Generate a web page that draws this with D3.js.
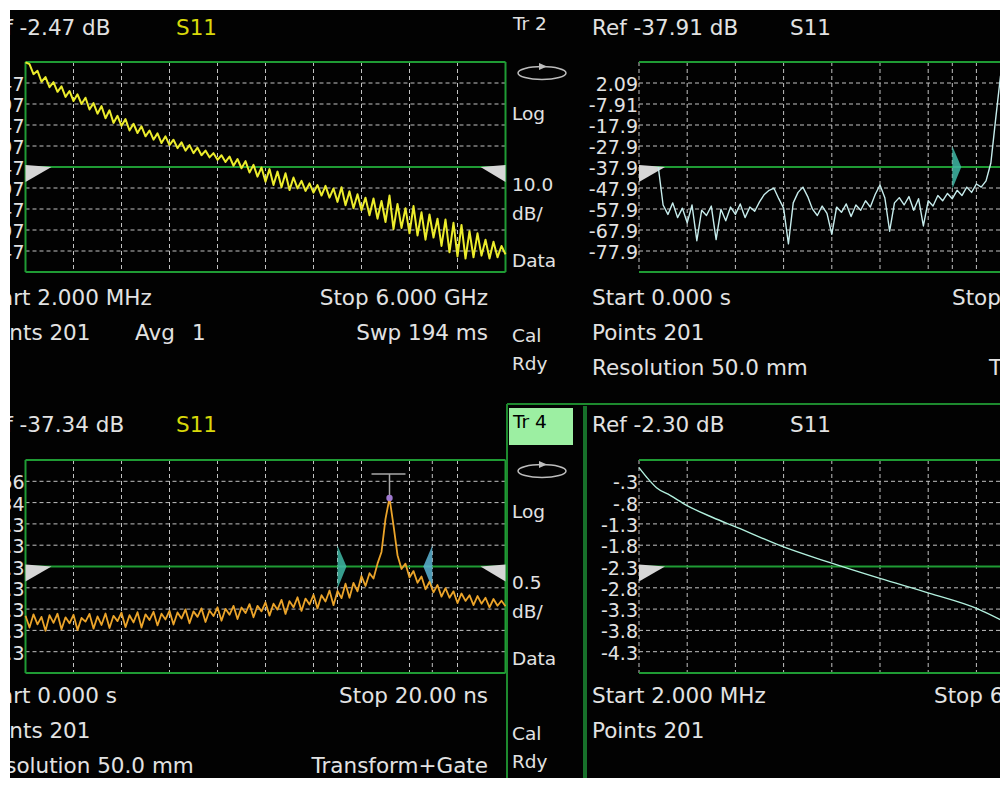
<!DOCTYPE html>
<html lang="en">
<head>
<meta charset="UTF-8">
<title>Network analyzer S11 - four windows</title>
<script src="https://d3js.org/d3.v7.min.js"></script>
<style>
    body { margin: 0; background: #fff; }
    text { font-family: "DejaVu Sans", sans-serif; fill: #e2e2e2; }
    .grid { stroke: #c2c2c2; stroke-width: 1; stroke-dasharray: 4,3; }
    .frame { stroke: #1f9b34; stroke-width: 2; }
    .tick { font-size: 19px; text-anchor: end; }
    .info { font-size: 21.5px; }
    .status { font-size: 18.5px; }
</style>
</head>
<body>
<svg id="chart" width="1005" height="787"></svg>
<script>
// ---- data ----
// top-left: S11 log mag, 0.5 dB/div, ref -2.47 dB, 2 MHz .. 6 GHz
const tlLabels = ["-.47", "-.97", "-1.47", "-1.97", "-2.47", "-2.97", "-3.47", "-3.97", "-4.47"];
const tlFreq = d3.range(121).map(i => 0.002 + i * (6 - 0.002) / 120);   // sweep points, GHz
const tlDb = [
    0.02, -0.02, -0.26, -0.18, -0.44, -0.33, -0.57, -0.45, -0.68, -0.55,
    -0.80, -0.66, -0.90, -0.74, -0.97, -0.82, -1.10, -0.95, -1.20, -1.02,
    -1.31, -1.12, -1.42, -1.25, -1.49, -1.33, -1.60, -1.44, -1.66, -1.50,
    -1.74, -1.60, -1.82, -1.67, -1.90, -1.74, -1.95, -1.82, -2.02, -1.88,
    -2.08, -1.95, -2.14, -2.01, -2.19, -2.08, -2.24, -2.14, -2.30, -2.19,
    -2.35, -2.22, -2.44, -2.28, -2.50, -2.33, -2.60, -2.42, -2.70, -2.48,
    -2.82, -2.52, -2.90, -2.58, -2.95, -2.62, -3.02, -2.72, -2.98, -2.80,
    -3.04, -2.86, -3.08, -2.90, -3.15, -2.92, -3.20, -2.98, -3.30, -2.95,
    -3.38, -3.05, -3.45, -3.12, -3.50, -3.20, -3.62, -3.22, -3.70, -3.28,
    -3.78, -3.15, -3.95, -3.35, -3.92, -3.45, -4.05, -3.40, -4.10, -3.55,
    -4.20, -3.60, -4.15, -3.70, -4.35, -3.72, -4.50, -3.80, -4.60, -3.85,
    -4.65, -4.00, -4.62, -4.05, -4.58, -4.20, -4.65, -4.25, -4.62, -4.35,
    -4.55
];

// bottom-left: time domain, 10 dB/div, ref -37.34 dB, 0 .. 20 ns
const blLabels = ["2.66", "-7.34", "-17.3", "-27.3", "-37.3", "-47.3", "-57.3", "-67.3", "-77.3"];
const blTime = d3.range(121).map(i => i * 20 / 120);   // ns
const blDb = [
    -60.5, -66.0, -59.8, -64.5, -61.0, -67.5, -60.2, -63.8, -59.5, -66.8,
    -61.2, -64.0, -60.0, -67.2, -61.5, -63.2, -59.6, -66.5, -60.8, -64.8,
    -59.4, -66.2, -60.5, -63.0, -59.0, -65.8, -60.2, -63.6, -58.8, -66.0,
    -59.8, -62.5, -58.6, -65.0, -59.5, -62.2, -58.2, -64.6, -58.9, -61.8,
    -57.5, -64.0, -58.4, -61.0, -57.0, -63.4, -58.0, -60.6, -56.5, -62.8,
    -57.2, -60.0, -55.8, -62.0, -56.6, -59.2, -55.0, -61.2, -55.8, -58.4,
    -54.2, -60.4, -54.8, -57.6, -53.0, -59.6, -53.6, -56.5, -51.8, -58.2,
    -52.4, -55.2, -50.6, -57.0, -50.8, -53.8, -48.6, -55.5, -48.8, -52.2,
    -45.4, -52.0, -45.0, -49.0, -41.8, -46.5, -40.5, -43.0, -36.0, -30.5,
    -15.0, -5.2, -18.0, -32.0, -38.5, -36.0, -42.5, -39.5, -45.0, -42.0,
    -48.0, -44.5, -49.5, -46.0, -51.5, -47.5, -52.0, -49.0, -54.5, -50.0,
    -53.5, -50.8, -55.5, -51.2, -54.8, -52.0, -56.5, -52.6, -55.8, -53.4,
    -56.0
];
const gateTimes = [13.0, 16.95];   // ns, gate start / stop

// top-right: time domain, 10 dB/div, ref -37.91 dB
const trLabels = ["2.09", "-7.91", "-17.9", "-27.9", "-37.9", "-47.9", "-57.9", "-67.9", "-77.9"];
const trTime = d3.range(73).map(i => 0.8 + i * 0.2);   // ns
const trDb = [
    -37.9, -56.0, -60.5, -55.0, -62.0, -57.5, -64.5, -56.0, -73.0, -58.5,
    -61.0, -56.5, -72.5, -58.0, -63.5, -57.0, -60.5, -55.5, -62.0, -57.0,
    -59.0, -54.5, -51.0, -49.0, -48.0, -53.0, -57.5, -74.5, -55.0, -50.0,
    -47.5, -52.0, -58.0, -61.0, -56.5, -60.0, -70.0, -57.0, -59.5, -55.5,
    -61.5, -56.0, -58.5, -54.0, -57.0, -51.0, -46.5, -52.5, -68.5, -55.0,
    -52.5, -56.0, -52.0, -58.5, -53.0, -66.0, -54.0, -56.5, -51.5, -54.0,
    -50.5, -53.0, -49.0, -51.5, -47.5, -50.0, -46.0, -47.5, -44.5, -36.0,
    -15.0, 5.4, 5.4
];

// bottom-right: gated S11, 0.5 dB/div, ref -2.30 dB
const brLabels = ["-.3", "-.8", "-1.3", "-1.8", "-2.3", "-2.8", "-3.3", "-3.8", "-4.3"];
const brFreq = [0.002, 0.10, 0.22, 0.39, 0.60, 0.92, 1.22, 1.76, 2.38, 3.00, 3.62, 4.21, 4.52];
const brDb = [0.02, -0.21, -0.45, -0.63, -0.87, -1.15, -1.38, -1.81, -2.21, -2.58, -2.93, -3.29, -3.57];

// ---- drawing ----
const svg = d3.select("#chart");
svg.append("clipPath").attr("id", "screen")
    .append("rect").attr("x", 10).attr("y", 10).attr("width", 990).attr("height", 768);
const g = svg.append("g").attr("clip-path", "url(#screen)");
g.append("rect").attr("x", 0).attr("y", 0).attr("width", 1005).attr("height", 787).attr("fill", "#020202");

function txt(x, y, s, cls, opts = {}) {
    const t = g.append("text").attr("x", x).attr("y", y).attr("class", cls).text(s);
    if (opts.anchor) t.attr("text-anchor", opts.anchor);
    if (opts.fill) t.style("fill", opts.fill);
    return t;
}

function panel(p) {
    const x = d3.scaleLinear().domain(p.xDomain).range([p.left, p.left + p.width]);
    const y = d3.scaleLinear().domain([p.ref + 5 * p.per, p.ref - 5 * p.per]).range([p.top, p.top + p.height]);
    const bottom = p.top + p.height, right = p.left + p.width;

    // dashed graticule
    for (let k = 1; k < 10; k++) {
        const v = p.ref + (5 - k) * p.per;
        if (k !== 5) g.append("line").attr("class", "grid")
            .attr("x1", p.left).attr("x2", right).attr("y1", y(v)).attr("y2", y(v));
        txt(p.left - 1, y(v) + 8, p.labels[k - 1], "tick");
    }
    for (let k = 0; k <= 10; k++) {
        const xv = p.left + k * p.width / 10;
        g.append("line").attr("class", "grid")
            .attr("x1", xv).attr("x2", xv).attr("y1", p.top).attr("y2", bottom);
    }
    (p.gates || []).forEach(t => {
        g.append("line").attr("class", "grid")
            .attr("x1", x(t)).attr("x2", x(t)).attr("y1", p.top).attr("y2", bottom);
    });
    // green frame + reference line
    [p.top, bottom, y(p.ref)].forEach(yy => {
        g.append("line").attr("class", "frame").attr("x1", p.left).attr("x2", right).attr("y1", yy).attr("y2", yy);
    });
    if (p.sides) [p.left, right].forEach(xx => {
        g.append("line").attr("class", "frame").attr("x1", xx).attr("x2", xx).attr("y1", p.top).attr("y2", bottom);
    });

    // reference level arrows
    const ry = y(p.ref);
    g.append("path").attr("fill", "#d6d6d6")
        .attr("d", `M${p.left},${ry - 2} L${p.left + 26},${ry} L${p.left},${ry + 15} Z`);
    if (p.sides) g.append("path").attr("fill", "#d6d6d6")
        .attr("d", `M${right - 25},${ry} L${right},${ry - 2} L${right},${ry + 15} Z`);

    // gate flags
    (p.gates || []).forEach((t, i) => {
        const gx = x(t), dir = i === 0 ? 1 : -1;
        g.append("path").attr("fill", i === 0 ? "#3fb8a6" : "#5cb4d4").attr("opacity", 0.85)
            .attr("d", `M${gx},${ry - 21} L${gx + dir * 9},${ry} L${gx},${ry + 22} Z`);
    });

    // trace
    const pts = p.xs.map((d, i) => [d, p.ys[i]]);
    g.append("path").datum(pts)
        .attr("fill", "none").attr("stroke", p.color).attr("stroke-width", p.sw)
        .attr("stroke-linejoin", "round")
        .attr("d", d3.line().x(d => x(d[0])).y(d => y(d[1])).curve(p.curve || d3.curveLinear));

    if (p.peak) {
        const i = p.ys.indexOf(d3.max(p.ys));
        const px = x(p.xs[i]), py = y(p.ys[i]);
        g.append("line").attr("stroke", "#a8a8a8").attr("stroke-width", 1.5)
            .attr("x1", px - 18).attr("x2", px + 16).attr("y1", py - 24).attr("y2", py - 24);
        g.append("line").attr("stroke", "#a8a8a8").attr("stroke-width", 1.5)
            .attr("x1", px).attr("x2", px).attr("y1", py - 24).attr("y2", py);
        g.append("circle").attr("cx", px).attr("cy", py).attr("r", 3.2).attr("fill", "#a07ad0");
    }
}

// top-left
panel({ left: 25.5, width: 480, top: 62, height: 210, ref: -2.47, per: 0.5, labels: tlLabels,
    xDomain: [0.002, 6], xs: tlFreq, ys: tlDb, color: "#ecec2c", sw: 2, sides: true });
// bottom-left
panel({ left: 25.5, width: 480, top: 460, height: 213, ref: -37.34, per: 10, labels: blLabels,
    xDomain: [0, 20], xs: blTime, ys: blDb, color: "#eba42a", sw: 1.8, sides: true, gates: gateTimes, peak: true });
// top-right
panel({ left: 639, width: 482, top: 62, height: 210, ref: -37.91, per: 10, labels: trLabels,
    xDomain: [0, 20], xs: trTime, ys: trDb, color: "#c6ecec", sw: 1.4, gates: gateTimes });
// bottom-right
panel({ left: 639, width: 482, top: 460, height: 213, ref: -2.30, per: 0.5, labels: brLabels,
    xDomain: [0.002, 6], xs: brFreq, ys: brDb, color: "#b2f0de", sw: 1.4, curve: d3.curveMonotoneX });

// annotation texts
const yellow = "#d8d80a";
txt(-22, 35, "Ref -2.47 dB", "info");
txt(176, 35, "S11", "info", { fill: yellow });
txt(-22, 305, "Start 2.000 MHz", "info");
txt(488, 305, "Stop 6.000 GHz", "info", { anchor: "end" });
txt(-22, 340, "Points 201", "info");
txt(135, 340, "Avg", "info");
txt(192, 340, "1", "info");
txt(488, 340, "Swp 194 ms", "info", { anchor: "end" });

txt(592, 35, "Ref -37.91 dB", "info");
txt(790, 35, "S11", "info");
txt(592, 305, "Start 0.000 s", "info");
txt(952, 305, "Stop 20.00 ns", "info");
txt(592, 340, "Points 201", "info");
txt(592, 375, "Resolution 50.0 mm", "info");
txt(1096, 375, "Transform", "info", { anchor: "end" });

txt(-22, 432, "Ref -37.34 dB", "info");
txt(176, 432, "S11", "info", { fill: yellow });
txt(-22, 703, "Start 0.000 s", "info");
txt(488, 703, "Stop 20.00 ns", "info", { anchor: "end" });
txt(-22, 738, "Points 201", "info");
txt(-22, 773, "Resolution 50.0 mm", "info");
txt(488, 773, "Transform+Gate", "info", { anchor: "end" });

txt(592, 432, "Ref -2.30 dB", "info");
txt(790, 432, "S11", "info");
txt(592, 703, "Start 2.000 MHz", "info");
txt(934, 703, "Stop 6.000 GHz", "info");
txt(592, 738, "Points 201", "info");

// active window frame (bottom-right)
g.append("line").attr("stroke", "#1d8a2e").attr("stroke-width", 2).attr("x1", 507).attr("x2", 1005).attr("y1", 404).attr("y2", 404);
g.append("line").attr("stroke", "#1d8a2e").attr("stroke-width", 2).attr("x1", 507).attr("x2", 507).attr("y1", 404).attr("y2", 787);
g.append("line").attr("stroke", "#17702a").attr("stroke-width", 4).attr("x1", 585).attr("x2", 585).attr("y1", 406).attr("y2", 787);

// trace status column
function statusColumn(dy, trName, scale, active) {
    if (active) g.append("rect").attr("x", 509).attr("y", 408 + dy - 398).attr("width", 64).attr("height", 37).attr("fill", "#9cefa2");
    txt(513, 30 + dy, trName, "status", active ? { fill: "#000" } : {});
    g.append("ellipse").attr("cx", 542).attr("cy", 73 + dy).attr("rx", 24).attr("ry", 6.5)
        .attr("fill", "none").attr("stroke", "#bdbdbd").attr("stroke-width", 1.5);
    g.append("path").attr("fill", "#bdbdbd").attr("d", `M539,${63 + dy} L547,${66.5 + dy} L539,${70 + dy} Z`);
    txt(512, 120 + dy, "Log", "status");
    txt(512, 191 + dy, scale, "status");
    txt(512, 220 + dy, "dB/", "status");
    txt(512, 267 + dy, "Data", "status");
    txt(512, 342 + dy, "Cal", "status");
    txt(512, 370 + dy, "Rdy", "status");
}
statusColumn(0, "Tr 2", "10.0", false);
statusColumn(398, "Tr 4", "0.5", true);
</script>
</body>
</html>
